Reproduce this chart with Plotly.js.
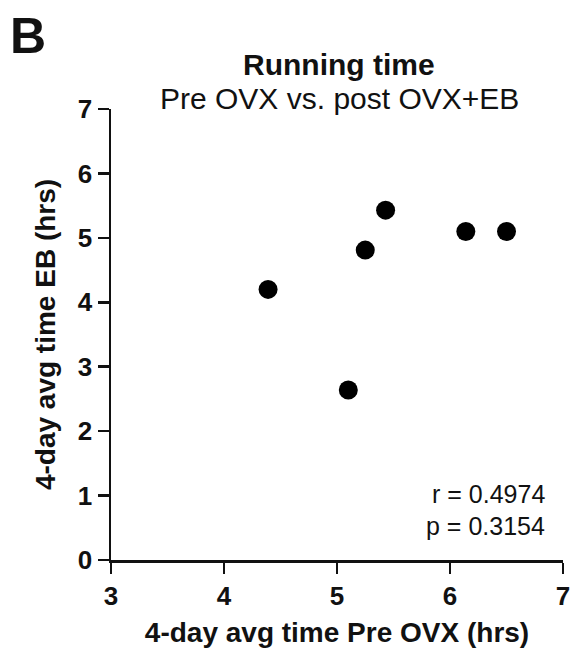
<!DOCTYPE html>
<html>
<head>
<meta charset="utf-8">
<script src="https://cdn.plot.ly/plotly-3.0.1.min.js"></script>
<style>html,body{margin:0;padding:0;background:#fff;}#chart{width:578px;height:654px;}</style>
</head>
<body>
<div id="chart"></div>
<script>
const preOVX = [4.39, 5.10, 5.25, 5.43, 6.14, 6.50];
const postEB = [4.20, 2.64, 4.81, 5.43, 5.10, 5.10];
const xTicks = [3, 4, 5, 6, 7];
const yTicks = [0, 1, 2, 3, 4, 5, 6, 7];
const statsText = ["r = 0.4974", "p = 0.3154"];
const panelLabel = "B";
const titleMain = "Running time";
const titleSub = "Pre OVX vs. post OVX+EB";
const xTitle = "4-day avg time Pre OVX (hrs)";
const yTitle = "4-day avg time EB (hrs)";

const F = "Liberation Sans, Arial, Helvetica, sans-serif";

const trace = {
  x: preOVX, y: postEB, type: 'scatter', mode: 'markers',
  marker: {color: '#000', size: 19, line: {width: 0}},
  cliponaxis: false, hoverinfo: 'none'
};

const axisCommon = {
  showgrid: false, zeroline: false, showline: true, linecolor: '#111', linewidth: 2.5,
  ticks: 'outside', ticklen: 11, tickwidth: 2.5, tickcolor: '#111',
  tickfont: {family: F, size: 26, color: '#111', weight: 'bold'},
  fixedrange: true
};

const layout = {
  width: 578, height: 654,
  margin: {l: 111, r: 15, t: 109, b: 94},
  paper_bgcolor: '#fff', plot_bgcolor: '#fff',
  showlegend: false,
  xaxis: Object.assign({}, axisCommon, {
    range: [3, 7], tickvals: xTicks, ticktext: xTicks.map(String),
    title: {text: '<b>' + xTitle + '</b>', font: {family: F, size: 28, color: '#111'}, standoff: 13}
  }),
  yaxis: Object.assign({}, axisCommon, {
    range: [0, 7], tickvals: yTicks, ticktext: yTicks.map(String),
    title: {text: '<b>' + yTitle + '</b>', font: {family: F, size: 28, color: '#111'}, standoff: 14}
  }),
  annotations: [
    {text: '<b>' + panelLabel + '</b>', xref: 'paper', yref: 'paper', x: 0, y: 1,
     xanchor: 'left', yanchor: 'top', xshift: -103, yshift: 103, showarrow: false, font: {family: F, size: 50, color: '#111'}},
    {text: '<b>' + titleMain + '</b>', xref: 'paper', yref: 'paper', x: 0.5, y: 1, xanchor: 'center', yanchor: 'bottom',
     yshift: 26, xshift: 2, showarrow: false, font: {family: F, size: 30, color: '#111'}},
    {text: titleSub, xref: 'paper', yref: 'paper', x: 0.5, y: 1, xanchor: 'center', yanchor: 'bottom',
     yshift: -8, xshift: 2, showarrow: false, font: {family: F, size: 30, color: '#111'}},
    {text: statsText[0], xref: 'paper', yref: 'paper', x: 1, y: 0, xanchor: 'right', yanchor: 'bottom',
     xshift: -16, yshift: 50, showarrow: false, font: {family: F, size: 25, color: '#111'}},
    {text: statsText[1], xref: 'paper', yref: 'paper', x: 1, y: 0, xanchor: 'right', yanchor: 'bottom',
     xshift: -16, yshift: 18, showarrow: false, font: {family: F, size: 25, color: '#111'}}
  ]
};

Plotly.newPlot('chart', [trace], layout, {staticPlot: true, displayModeBar: false});
</script>
</body>
</html>
